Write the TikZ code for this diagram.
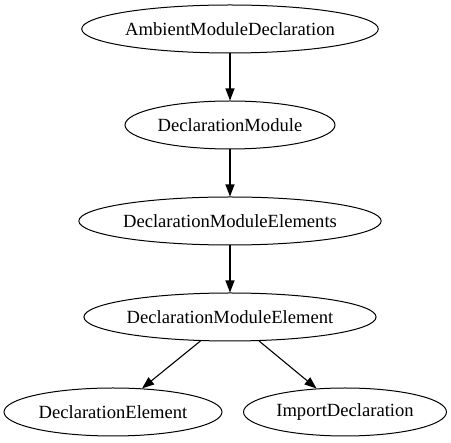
\documentclass[tikz,border=0pt]{standalone}
\usepackage{fontspec}
\setmainfont{Liberation Serif}
\usetikzlibrary{ arrows.meta, shapes.geometric, positioning }
\tikzset{
>={Triangle[length=12pt,width=9pt]}, % filled arrow heads as in dot
every node/.style={inner sep=0pt},
rule/.style={ellipse, draw, line width=1pt, minimum height=48pt, font=\fontsize{18.6}{21}\selectfont}, % sets the properties for each grammar rule
link/.style={->, line width=1.1pt}, % edges between rules
}
\begin{document}
\begin{tikzpicture}[x=1pt,y=-1pt]
  \useasboundingbox (0,0) rectangle (451,443);%keep margins of the reference

  \node[rule, minimum width=293pt] (amd) at (230,29) {AmbientModuleDeclaration};
  \node[rule, minimum width=210pt] (dm) at (230,125) {DeclarationModule};
  \node[rule, minimum width=298pt] (dmes) at (230,221) {DeclarationModuleElements};
  \node[rule, minimum width=290pt] (dme) at (230,317) {DeclarationModuleElement};

  % two children of the last rule
  \node[rule, minimum width=218pt] (de) at (113,412) {DeclarationElement};
  \node[rule, minimum width=203pt] (id) at (345,412) {ImportDeclaration};

  \path[link]
  (amd) edge (dm)
  (dm) edge (dmes)
  (dmes) edge (dme)
  (dme) edge (de)
  (dme) edge (id);
\end{tikzpicture}
\end{document}
